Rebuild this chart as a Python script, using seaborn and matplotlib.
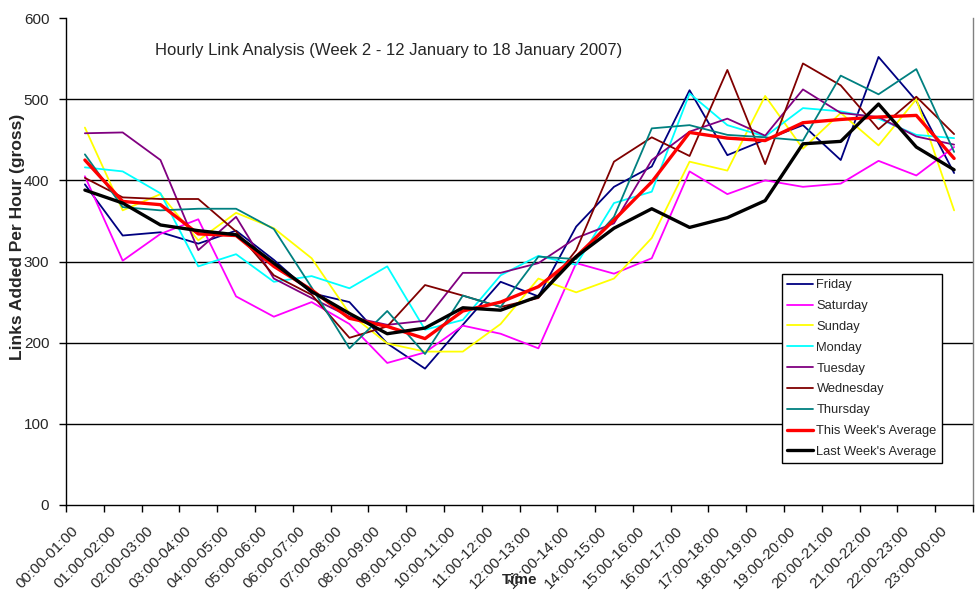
import numpy as np
import pandas as pd
import matplotlib
matplotlib.use("Agg")
import matplotlib.pyplot as plt
import matplotlib.transforms as mtransforms
import seaborn as sns

hours = ["00:00-01:00", "01:00-02:00", "02:00-03:00", "03:00-04:00", "04:00-05:00",
         "05:00-06:00", "06:00-07:00", "07:00-08:00", "08:00-09:00", "09:00-10:00",
         "10:00-11:00", "11:00-12:00", "12:00-13:00", "13:00-14:00", "14:00-15:00",
         "15:00-16:00", "16:00-17:00", "17:00-18:00", "18:00-19:00", "19:00-20:00",
         "20:00-21:00", "21:00-22:00", "22:00-23:00", "23:00-00:00"]

friday = [395, 332, 336, 322, 338, 302, 261, 250, 199, 168, 222, 275,
          257, 343, 392, 417, 511, 431, 450, 468, 425, 552, 498, 409]
saturday = [405, 301, 334, 352, 257, 232, 250, 223, 175, 188, 221, 211,
            193, 298, 285, 304, 411, 383, 400, 392, 396, 424, 406, 441]
sunday = [465, 363, 383, 326, 360, 341, 304, 236, 199, 189, 189, 223,
          279, 262, 279, 329, 423, 412, 504, 439, 483, 443, 500, 363]
monday = [416, 411, 384, 294, 309, 275, 282, 267, 294, 216, 228, 283,
          307, 296, 372, 386, 507, 468, 454, 489, 485, 476, 456, 452]
tuesday = [458, 459, 425, 314, 355, 279, 255, 232, 222, 227, 286, 286,
           298, 329, 347, 425, 460, 476, 455, 512, 483, 478, 454, 444]
wednesday = [403, 379, 377, 377, 337, 283, 259, 206, 220, 271, 258, 244,
             255, 314, 423, 453, 430, 536, 420, 544, 517, 463, 503, 457]
thursday = [432, 367, 363, 365, 365, 340, 268, 193, 239, 186, 258, 244,
            306, 303, 355, 464, 468, 456, 453, 449, 529, 506, 537, 435]
this_week_avg = [425, 374, 370, 334, 332, 294, 265, 230, 220, 205, 239, 250,
                 269, 306, 351, 398, 459, 452, 449, 471, 475, 478, 480, 427]
last_week_avg = [388, 372, 345, 338, 333, 298, 263, 236, 211, 218, 243, 240,
                 257, 306, 341, 365, 342, 354, 375, 445, 448, 494, 441, 413]

series_names = ["Friday", "Saturday", "Sunday", "Monday", "Tuesday", "Wednesday",
                "Thursday", "This Week's Average", "Last Week's Average"]
series_values = [friday, saturday, sunday, monday, tuesday, wednesday,
                 thursday, this_week_avg, last_week_avg]
colores = ["#000080", "#FF00FF", "#FFFF00", "#00FFFF", "#800080", "#800000",
           "#008080", "#FF0000", "#000000"]
grosores = [1.3, 1.3, 1.3, 1.3, 1.3, 1.3, 1.3, 2.4, 2.4]

sns.set_theme(style="white")
plt.rcParams['font.family'] = ['Liberation Sans', 'DejaVu Sans']

fig = plt.figure(figsize=(9.77, 6.0), dpi=100)
ax = fig.add_axes([66 / 977, 95 / 600, 907 / 977, 487 / 600])

x = np.arange(len(hours))
for nombre, valores, color, lw in zip(series_names, series_values, colores, grosores):
    df = pd.DataFrame({"pos": x, "valor": valores})
    sns.lineplot(data=df, x="pos", y="valor", color=color, linewidth=lw,
                 label=nombre, ax=ax)

ax.set_xlim(-0.5, len(hours) - 0.5)
ax.set_ylim(0, 600)
ax.set_yticks(range(0, 601, 100))
ax.set_xlabel("")
ax.set_ylabel("")

# limites de categoria como ticks; etiquetas como texto girado bajo cada categoria
ax.set_xticks(np.arange(-0.5, len(hours), 1.0))
ax.set_xticklabels([])
desplazar = mtransforms.ScaledTranslation(-14 / 100, -19 / 100, fig.dpi_scale_trans)
trans_etiq = ax.get_xaxis_transform() + desplazar
for i, h in enumerate(hours):
    ax.text(i, 0, h, transform=trans_etiq, rotation=45, ha="right", va="top",
            rotation_mode="anchor", fontsize=11, clip_on=False)

ax.tick_params(axis="x", which="major", direction="out", length=5, width=1,
               color="black", bottom=True)
ax.tick_params(axis="y", direction="out", length=5, width=1, color="black",
               left=True, labelsize=11, pad=7)

ax.yaxis.grid(True, color="black", linewidth=1)
ax.get_ygridlines()[-1].set_visible(False)
ax.get_ygridlines()[0].set_visible(False)

for lado in ["left", "bottom"]:
    ax.spines[lado].set_color("black")
    ax.spines[lado].set_linewidth(1)
ax.spines["top"].set_visible(False)
ax.spines["right"].set_color("#808080")
ax.spines["right"].set_linewidth(1)

leg = ax.legend(loc="upper left", bbox_to_anchor=(0.789, 0.474), fontsize=9.3,
                frameon=True, fancybox=False, edgecolor="black", framealpha=1,
                handlelength=2.0, handletextpad=0.3, labelspacing=0.68,
                borderpad=0.4, borderaxespad=0)
leg.get_frame().set_linewidth(1)

fig.text(155 / 977, 1 - 50 / 600,
         "Hourly Link Analysis (Week 2 - 12 January to 18 January 2007)",
         fontsize=12, ha="left", va="center")
fig.text(520 / 977, 1 - 580 / 600, "Time", fontsize=11, fontweight="bold",
         ha="center", va="center")
fig.text(18 / 977, 1 - 237 / 600, "Links Added Per Hour (gross)", fontsize=12.5,
         fontweight="bold", rotation=90, ha="center", va="center")

plt.savefig("out.png", dpi=100)
